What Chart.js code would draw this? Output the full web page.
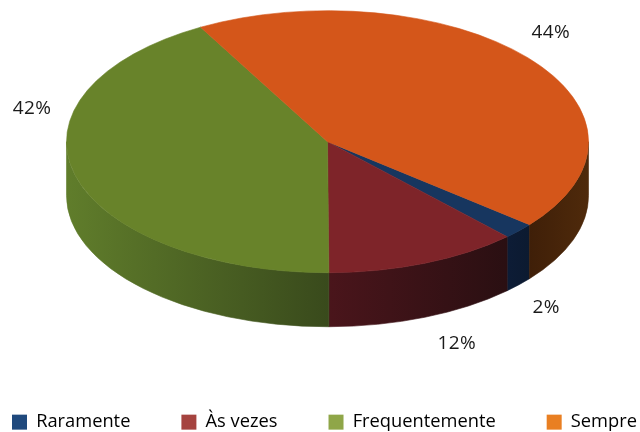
<!DOCTYPE html>
<html>
<head>
<meta charset="utf-8">
<script src="https://cdn.jsdelivr.net/npm/chart.js@4"></script>
<style>html,body{margin:0;padding:0;background:#fff}canvas{display:block}</style>
</head>
<body>
<canvas id="c" width="640" height="432"></canvas>
<script>
const categories = ['Raramente', 'Às vezes', 'Frequentemente', 'Sempre'];
const values = [2, 12, 42, 44];
const faceColors = ['#17365f', '#7e2429', '#68832a', '#d4561a'];
const legendColors = ['#1f497d', '#a5433f', '#8fa648', '#e97f22'];
const wallStops = [
  ['#0d1c36', '#0c1a30'],
  ['#4a151b', '#2a0f12'],
  ['#607d2b', '#394a1c'],
  ['#3f1f08', '#4f2a0b']
];
const labelShift = [[27.5, 76.6], [32, 80], [-43, -66], [23, -25]];
const squash = 0.502;
const depth = 54;
const TAU = Math.PI * 2;

function visibleRange(start, end) {
  // portion of an arc that lies on the front half (0..PI in canvas angles)
  const ranges = [];
  for (const k of [-1, 0, 1, 2]) {
    const a = Math.max(start, k * TAU), b = Math.min(end, k * TAU + Math.PI);
    if (b > a) ranges.push([a, b]);
  }
  return ranges;
}

const pie3d = {
  id: 'pie3d',
  afterLayout(chart) {
    const lg = chart.legend, pad = chart.options.plugins.legend.labels.padding;
    lg.left = 12 - pad;
    lg.right = 900;
    lg.top = 413 - pad;
    lg.bottom = 432;
  },
  beforeDatasetsDraw(chart) {
    const ctx = chart.ctx;
    const arcs = chart.getDatasetMeta(0).data;
    arcs.forEach((el, i) => {
      const rx = el.outerRadius, ry = rx * squash;
      visibleRange(el.startAngle, el.endAngle).forEach(([a, b]) => {
        const xa = el.x + rx * Math.cos(a), xb = el.x + rx * Math.cos(b);
        const g = ctx.createLinearGradient(Math.min(xa, xb), 0, Math.max(xa, xb), 0);
        g.addColorStop(0, wallStops[i][0]);
        g.addColorStop(1, wallStops[i][1]);
        ctx.beginPath();
        ctx.ellipse(el.x, el.y, rx, ry, 0, a, b);
        ctx.ellipse(el.x, el.y + depth, rx, ry, 0, b, a, true);
        ctx.closePath();
        ctx.fillStyle = g;
        ctx.strokeStyle = g;
        ctx.lineWidth = 0.6;
        ctx.fill();
        ctx.stroke();
      });
    });
    const cy = arcs[0].y;
    ctx.save();
    ctx.translate(0, cy);
    ctx.scale(1, squash);
    ctx.translate(0, -cy);
  },
  afterDatasetsDraw(chart) {
    chart.ctx.restore();
    const ctx = chart.ctx;
    chart.getDatasetMeta(0).data.forEach((el, i) => {
      const mid = (el.startAngle + el.endAngle) / 2;
      const x = el.x + el.outerRadius * Math.cos(mid) + labelShift[i][0];
      const y = el.y + el.outerRadius * squash * Math.sin(mid) + labelShift[i][1];
      ctx.save();
      ctx.font = '19px "Open Sans"';
      ctx.letterSpacing = '0.4px';
      ctx.fillStyle = '#1a1a1a';
      ctx.textAlign = 'center';
      ctx.textBaseline = 'middle';
      ctx.fillText(values[i] + '%', x, y);
      ctx.restore();
    });
  }
};

new Chart(document.getElementById('c'), {
  type: 'pie',
  data: {
    labels: categories,
    datasets: [{
      data: values,
      backgroundColor: faceColors,
      borderColor: faceColors,
      borderWidth: 0.8,
      clip: false
    }]
  },
  options: {
    responsive: false,
    animation: false,
    rotation: 129.3,
    radius: 261,
    events: [],
    layout: { padding: { left: 15 } },
    plugins: {
      tooltip: { enabled: false },
      legend: {
        position: 'bottom',
        align: 'start',
        labels: {
          boxWidth: 15,
          boxHeight: 15,
          padding: 51,
          color: '#1a1a1a',
          font: { family: '"Open Sans"', size: 18.3 },
          generateLabels: () => categories.map((t, i) => ({
            text: t, fillStyle: legendColors[i], strokeStyle: legendColors[i],
            lineWidth: 0, hidden: false, index: i
          }))
        }
      }
    }
  },
  plugins: [pie3d]
});
</script>
</body>
</html>
